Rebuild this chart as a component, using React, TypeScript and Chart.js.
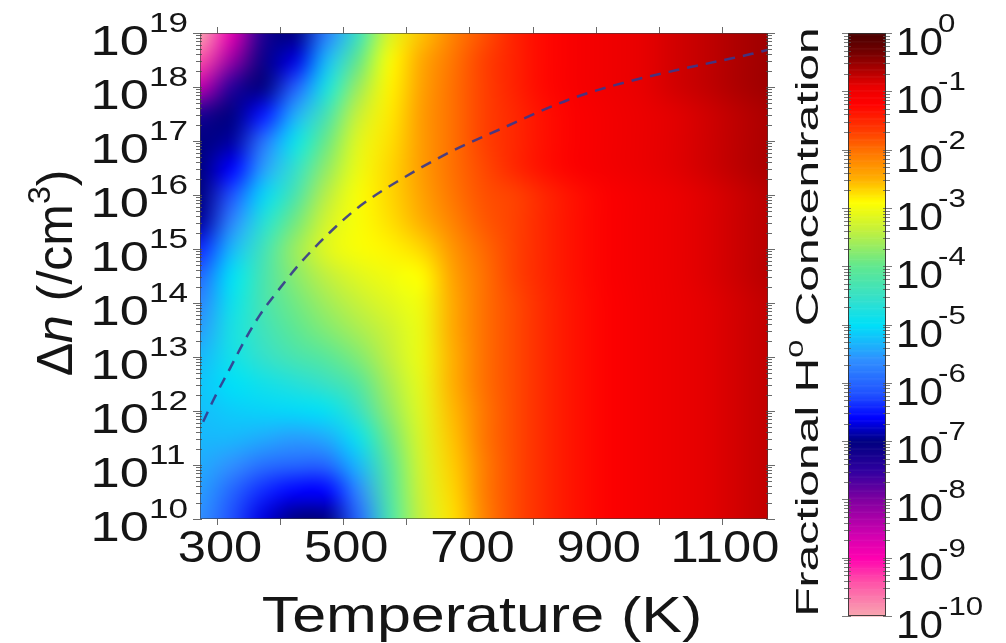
import React, { useEffect, useRef } from "react";
import { Chart, registerables } from "chart.js";

Chart.register(...registerables);

// ---------------- data ----------------
const temperaturesK = [273, 323, 373, 423, 473, 523, 573, 623, 673, 723, 773, 823, 873, 923, 973, 1023, 1073, 1123, 1173];
const logDeltaN = [10, 10.5, 11, 11.5, 12, 12.5, 13, 13.5, 14, 14.5, 15, 15.5, 16, 16.5, 17, 17.5, 18, 18.5, 19];

// log10(fractional H0 concentration), one array per Δn row (bottom to top)
const row10 = [-5.6, -6.2, -6.7, -7.0, -7.0, -6.0, -4.3, -3.35, -2.75, -2.15, -1.75, -1.5, -1.32, -1.18, -1.06, -0.97, -0.88, -0.8, -0.72];
const row10_5 = [-5.5, -6.0, -6.4, -6.6, -6.6, -5.7, -4.2, -3.3, -2.7, -2.1, -1.75, -1.5, -1.32, -1.18, -1.06, -0.97, -0.88, -0.8, -0.72];
const row11 = [-5.4, -5.6, -5.9, -6.0, -6.0, -5.3, -4.1, -3.25, -2.65, -2.1, -1.75, -1.5, -1.32, -1.18, -1.06, -0.97, -0.88, -0.8, -0.72];
const row11_5 = [-5.3, -5.3, -5.4, -5.5, -5.4, -4.9, -3.9, -3.2, -2.6, -2.05, -1.75, -1.5, -1.32, -1.18, -1.06, -0.97, -0.88, -0.8, -0.72];
const row12 = [-5.25, -5.15, -5.1, -5.05, -4.95, -4.5, -3.7, -3.15, -2.55, -2.05, -1.75, -1.5, -1.32, -1.18, -1.06, -0.97, -0.88, -0.8, -0.72];
const row12_5 = [-5.2, -5.0, -4.85, -4.7, -4.5, -4.15, -3.55, -3.1, -2.5, -2.0, -1.75, -1.5, -1.32, -1.18, -1.06, -0.97, -0.88, -0.8, -0.72];
const row13 = [-5.3, -4.85, -4.55, -4.3, -4.1, -3.8, -3.4, -3.05, -2.5, -2.0, -1.75, -1.5, -1.32, -1.18, -1.06, -0.97, -0.88, -0.8, -0.72];
const row13_5 = [-5.5, -4.8, -4.4, -4.05, -3.8, -3.55, -3.3, -3.05, -2.45, -2.0, -1.75, -1.5, -1.32, -1.18, -1.06, -0.97, -0.88, -0.8, -0.72];
const row14 = [-5.7, -4.9, -4.3, -3.9, -3.6, -3.35, -3.15, -3.0, -2.45, -2.0, -1.75, -1.5, -1.32, -1.18, -1.06, -0.97, -0.88, -0.8, -0.72];
const row14_5 = [-6.0, -5.0, -4.3, -3.75, -3.4, -3.15, -3.0, -2.9, -2.4, -2.0, -1.7, -1.47, -1.3, -1.15, -1.04, -0.95, -0.86, -0.77, -0.68];
const row15 = [-6.4, -5.3, -4.4, -3.65, -3.15, -2.95, -2.85, -2.7, -2.3, -1.95, -1.7, -1.47, -1.3, -1.15, -1.04, -0.95, -0.86, -0.77, -0.68];
const row15_5 = [-6.9, -5.7, -4.7, -3.9, -3.25, -2.95, -2.75, -2.5, -2.15, -1.85, -1.7, -1.47, -1.3, -1.15, -1.04, -0.95, -0.86, -0.77, -0.68];
const row16 = [-7.0, -6.2, -5.1, -4.3, -3.45, -2.95, -2.7, -2.4, -2.05, -1.8, -1.7, -1.47, -1.3, -1.15, -1.04, -0.95, -0.86, -0.77, -0.68];
const row16_5 = [-7.0, -6.6, -5.5, -4.6, -3.7, -3.05, -2.7, -2.35, -2.0, -1.75, -1.5, -1.3, -1.15, -1.04, -0.95, -0.87, -0.79, -0.7, -0.62];
const row17 = [-7.0, -6.9, -5.9, -4.9, -3.95, -3.15, -2.75, -2.35, -2.0, -1.7, -1.5, -1.3, -1.15, -1.04, -0.95, -0.87, -0.79, -0.7, -0.62];
const row17_5 = [-7.3, -7.0, -6.5, -5.4, -4.35, -3.35, -2.8, -2.35, -2.0, -1.7, -1.5, -1.3, -1.15, -1.04, -0.95, -0.87, -0.79, -0.7, -0.62];
const row18 = [-8.5, -7.4, -7.0, -6.1, -4.8, -3.65, -2.85, -2.4, -2.0, -1.7, -1.45, -1.25, -1.1, -1.0, -0.9, -0.8, -0.72, -0.63, -0.55];
const row18_5 = [-9.4, -8.2, -7.1, -6.7, -5.3, -4.0, -2.95, -2.45, -2.05, -1.7, -1.45, -1.25, -1.1, -1.0, -0.9, -0.8, -0.72, -0.63, -0.55];
const row19 = [-10.0, -8.8, -7.3, -7.0, -5.8, -4.5, -3.2, -2.6, -2.15, -1.8, -1.45, -1.25, -1.1, -1.0, -0.9, -0.8, -0.72, -0.63, -0.55];

const logFractionRows = [row10, row10_5, row11, row11_5, row12, row12_5, row13, row13_5, row14, row14_5, row15, row15_5, row16, row16_5, row17, row17_5, row18, row18_5, row19];

// dashed curve (temperature, log10 Δn)
const curveT = [278, 294, 321, 344, 368, 400, 432, 479, 527, 590, 670, 749, 856, 932, 1016, 1103, 1146, 1173];
const curveLogN = [11.8, 12.2, 12.8, 13.31, 13.78, 14.28, 14.74, 15.31, 15.8, 16.28, 16.8, 17.22, 17.76, 18.04, 18.28, 18.5, 18.61, 18.69];

// colormap
const cmapLevels = [-10, -9.4, -9, -8.6, -8, -7.5, -7, -6.6, -6.2, -5.6, -5, -4.6, -4, -3.4, -2.9, -2.5, -2, -1.7, -1.2, -0.9, -0.6, -0.3, 0];
const cmapColors = ["#f8a8b0", "#ff50a8", "#ff00b0", "#d000b0", "#8000a0", "#3000a0", "#000080", "#0000ff", "#2050ff", "#3090ff", "#00e0f8", "#30e0d0", "#60e890", "#c0f040", "#ffff00", "#ffb000", "#ff7000", "#ff4000", "#ff0000", "#e80000", "#a80000", "#700000", "#4a0000"];

// ticks
const xTickLabels = [300, 500, 700, 900, 1100];
const xTickMarks = [300, 400, 500, 600, 700, 800, 900, 1000, 1100];
const yTickExponents = [10, 11, 12, 13, 14, 15, 16, 17, 18, 19];
const cbTickExponents = [-10, -9, -8, -7, -6, -5, -4, -3, -2, -1, 0];

const xTitle = "Temperature (K)";
const FONT = "'Liberation Sans', Arial, Helvetica, sans-serif";
const TEXT = "#151515";

// ---------------- helpers ----------------
function hexToRgb(h: string) {
  const n = parseInt(h.slice(1), 16);
  return [(n >> 16) & 255, (n >> 8) & 255, n & 255];
}
const cmapRgb = cmapColors.map(hexToRgb);
function colorFor(v: number) {
  if (v <= cmapLevels[0]) return cmapRgb[0];
  const last = cmapLevels.length - 1;
  if (v >= cmapLevels[last]) return cmapRgb[last];
  let i = 0;
  while (cmapLevels[i + 1] < v) i++;
  const f = (v - cmapLevels[i]) / (cmapLevels[i + 1] - cmapLevels[i]);
  const a = cmapRgb[i], b = cmapRgb[i + 1];
  return [0, 1, 2].map((k) => Math.round(a[k] + (b[k] - a[k]) * f));
}

type Run = { t: string; size: number; italic?: boolean; dy?: number };
function drawRuns(ctx: CanvasRenderingContext2D, runs: Run[], x: number, y: number, align: string, rot: number, sx: number) {
  ctx.save();
  ctx.translate(x, y);
  if (rot) ctx.rotate(rot);
  ctx.scale(sx, 1);
  ctx.fillStyle = TEXT;
  ctx.textBaseline = "alphabetic";
  ctx.textAlign = "left";
  const widths = runs.map((r) => {
    ctx.font = `${r.italic ? "italic " : ""}${r.size}px ${FONT}`;
    return ctx.measureText(r.t).width;
  });
  const total = widths.reduce((s, w) => s + w, 0);
  let cur = align === "center" ? -total / 2 : align === "right" ? -total : 0;
  runs.forEach((r, i) => {
    ctx.font = `${r.italic ? "italic " : ""}${r.size}px ${FONT}`;
    ctx.fillText(r.t, cur, r.dy || 0);
    cur += widths[i];
  });
  ctx.restore();
}

function minorValues(lo: number, hi: number) {
  const out: { v: number; major: boolean }[] = [];
  for (let e = lo; e <= hi; e++) {
    for (let k = 1; k <= 9; k++) {
      if (e === hi && k > 1) break;
      out.push({ v: k * Math.pow(10, e), major: k === 1 });
    }
  }
  return out;
}

// ---------------- plugins ----------------
const heatmapPlugin = {
  id: "heatmap",
  beforeDatasetsDraw(chart: any) {
    const { ctx, chartArea: a, scales } = chart;
    const xs = scales.x, ys = scales.y;
    const nc = temperaturesK.length, nr = logDeltaN.length;
    const off = document.createElement("canvas");
    off.width = nc;
    off.height = nr;
    const octx = off.getContext("2d")!;
    const img = octx.createImageData(nc, nr);
    logFractionRows.forEach((row, r) => {
      row.forEach((v, c) => {
        const [R, G, B] = colorFor(v);
        const p = ((nr - 1 - r) * nc + c) * 4;
        img.data[p] = R; img.data[p + 1] = G; img.data[p + 2] = B; img.data[p + 3] = 255;
      });
    });
    octx.putImageData(img, 0, 0);
    const dT = temperaturesK[1] - temperaturesK[0];
    const dL = logDeltaN[1] - logDeltaN[0];
    const x0 = xs.getPixelForValue(temperaturesK[0] - dT / 2);
    const x1 = xs.getPixelForValue(temperaturesK[nc - 1] + dT / 2);
    const y0 = ys.getPixelForValue(Math.pow(10, logDeltaN[nr - 1] + dL / 2));
    const y1 = ys.getPixelForValue(Math.pow(10, logDeltaN[0] - dL / 2));
    ctx.save();
    ctx.beginPath();
    ctx.rect(a.left, a.top, a.right - a.left, a.bottom - a.top);
    ctx.clip();
    ctx.imageSmoothingEnabled = true;
    (ctx as any).imageSmoothingQuality = "high";
    ctx.drawImage(off, x0, y0, x1 - x0, y1 - y0);
    ctx.restore();
  },
};

const mainAxesPlugin = {
  id: "mainAxes",
  afterDraw(chart: any) {
    const { ctx, chartArea: a, scales } = chart;
    const xs = scales.x, ys = scales.y;
    ctx.save();
    ctx.strokeStyle = "rgba(80,80,80,0.85)";
    ctx.lineWidth = 1;
    xTickMarks.forEach((t) => {
      const px = Math.round(xs.getPixelForValue(t)) + 0.5;
      ctx.beginPath();
      ctx.moveTo(px, a.bottom); ctx.lineTo(px, a.bottom + 6);
      ctx.moveTo(px, a.top); ctx.lineTo(px, a.top - 6);
      ctx.stroke();
    });
    minorValues(yTickExponents[0], yTickExponents[yTickExponents.length - 1]).forEach(({ v, major }) => {
      const py = Math.round(ys.getPixelForValue(v)) + 0.5;
      const len = major ? 7 : 4;
      ctx.beginPath();
      ctx.moveTo(a.left - len, py); ctx.lineTo(a.left + 2, py);
      ctx.moveTo(a.right - 2, py); ctx.lineTo(a.right + len, py);
      ctx.stroke();
    });
    ctx.strokeStyle = "rgba(60,60,60,0.6)";
    ctx.strokeRect(a.left + 0.5, a.top + 0.5, a.right - a.left - 1, a.bottom - a.top - 1);
    ctx.restore();

    yTickExponents.forEach((e) => {
      const py = ys.getPixelForValue(Math.pow(10, e));
      drawRuns(ctx, [{ t: "10", size: 42 }], 149, py + 22, "right", 0, 1.25);
      drawRuns(ctx, [{ t: String(e), size: 27 }], 149, py - 1, "left", 0, 1.3);
    });
    xTickLabels.forEach((t) => {
      const px = xs.getPixelForValue(t);
      drawRuns(ctx, [{ t: String(t), size: 44 }], px + 3, 562, "center", 0, 1.15);
    });
    drawRuns(ctx, [{ t: xTitle, size: 50 }], 482, 632, "center", 0, 1.22);
    drawRuns(
      ctx,
      [
        { t: "Δ", size: 50 },
        { t: "n", size: 50, italic: true },
        { t: " (/cm", size: 50 },
        { t: "3", size: 32, dy: -22 },
        { t: ")", size: 50 },
      ],
      72, 273, "center", -Math.PI / 2, 1
    );
  },
};

const colorbarPlugin = {
  id: "colorbar",
  beforeDatasetsDraw(chart: any) {
    const { ctx, chartArea: a, scales } = chart;
    const ys = scales.y;
    const lo = cbTickExponents[0], hi = cbTickExponents[cbTickExponents.length - 1];
    const step = 0.02;
    for (let v = lo; v < hi - 1e-9; v += step) {
      const yA = ys.getPixelForValue(Math.pow(10, v + step));
      const yB = ys.getPixelForValue(Math.pow(10, v));
      const [R, G, B] = colorFor(v + step / 2);
      ctx.fillStyle = `rgb(${R},${G},${B})`;
      ctx.fillRect(a.left, yA, a.right - a.left, yB - yA + 0.6);
    }
  },
  afterDraw(chart: any) {
    const { ctx, chartArea: a, scales } = chart;
    const ys = scales.y;
    ctx.save();
    ctx.strokeStyle = "rgba(90,90,90,0.8)";
    ctx.lineWidth = 1;
    minorValues(cbTickExponents[0], cbTickExponents[cbTickExponents.length - 1]).forEach(({ v, major }) => {
      const py = Math.round(ys.getPixelForValue(v)) + 0.5;
      const len = major ? 6 : 4;
      ctx.beginPath();
      ctx.moveTo(a.left - len, py); ctx.lineTo(a.left + 3, py);
      ctx.moveTo(a.right - 3, py); ctx.lineTo(a.right + len, py);
      ctx.stroke();
    });
    ctx.strokeStyle = "rgba(50,50,50,0.9)";
    ctx.strokeRect(a.left + 0.5, a.top + 0.5, a.right - a.left - 1, a.bottom - a.top - 1);
    ctx.restore();
    cbTickExponents.forEach((e) => {
      const py = ys.getPixelForValue(Math.pow(10, e));
      drawRuns(ctx, [{ t: "10", size: 39 }], 116, py + 22, "left", 0, 1.08);
      drawRuns(ctx, [{ t: e === 0 ? "0" : `-${Math.abs(e)}`, size: 26 }], 158, py - 1, "left", 0, 1.2);
    });
    drawRuns(
      ctx,
      [
        { t: "Fractional H", size: 31 },
        { t: "0", size: 21, dy: -15 },
        { t: " Concentration", size: 31 },
      ],
      38, 322, "center", -Math.PI / 2, 1.55
    );
  },
};

// ---------------- component ----------------
export default function App() {
  const mainRef = useRef<HTMLCanvasElement>(null);
  const cbRef = useRef<HTMLCanvasElement>(null);

  useEffect(() => {
    const main = new Chart(mainRef.current!, {
      type: "line",
      data: {
        datasets: [
          {
            data: curveT.map((t, i) => ({ x: t, y: Math.pow(10, curveLogN[i]) })),
            borderColor: "rgba(55,55,140,0.9)",
            borderWidth: 2.5,
            borderDash: [11, 8],
            pointRadius: 0,
            fill: false,
            cubicInterpolationMode: "monotone",
          },
        ],
      },
      options: {
        animation: false,
        responsive: false,
        maintainAspectRatio: false,
        layout: { padding: { left: 200, top: 33, right: 238, bottom: 124 } },
        plugins: { legend: { display: false }, tooltip: { enabled: false } },
        scales: {
          x: { type: "linear", min: 273, max: 1173, display: false },
          y: { type: "logarithmic", min: 1e10, max: 1e19, display: false },
        },
      },
      plugins: [heatmapPlugin, mainAxesPlugin],
    } as any);

    const cb = new Chart(cbRef.current!, {
      type: "scatter",
      data: { datasets: [{ data: [] }] },
      options: {
        animation: false,
        responsive: false,
        maintainAspectRatio: false,
        layout: { padding: { left: 68, top: 33, right: 120, bottom: 27 } },
        plugins: { legend: { display: false }, tooltip: { enabled: false } },
        scales: {
          x: { type: "linear", min: 0, max: 1, display: false },
          y: { type: "logarithmic", min: 1e-10, max: 1, display: false },
        },
      },
      plugins: [colorbarPlugin],
    } as any);

    return () => {
      main.destroy();
      cb.destroy();
    };
  }, []);

  return (
    <div style={{ position: "fixed", left: 0, top: 0, width: 1006, height: 643, background: "#ffffff", overflow: "hidden" }}>
      <canvas ref={mainRef} width={1006} height={643} style={{ position: "absolute", left: 0, top: 0, width: 1006, height: 643 }} />
      <canvas ref={cbRef} width={226} height={643} style={{ position: "absolute", left: 780, top: 0, width: 226, height: 643 }} />
    </div>
  );
}
